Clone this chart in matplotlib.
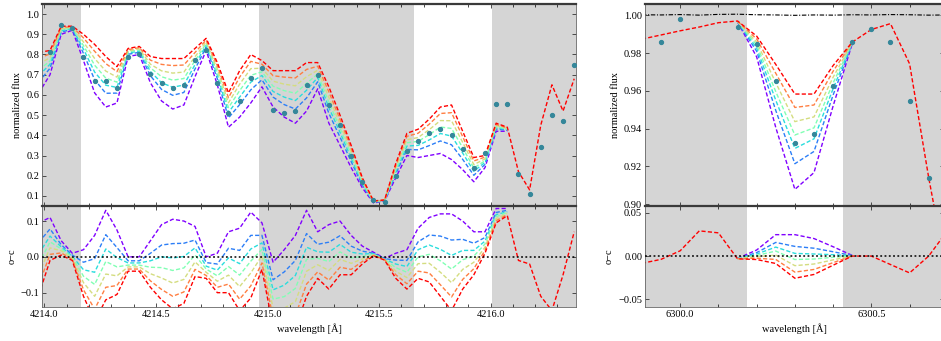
import numpy as np
import matplotlib
matplotlib.use("Agg")
import matplotlib.pyplot as plt

# ---------------- blue window (4214-4216 A) ----------------
wave_a = [4213.975, 4214.025, 4214.075, 4214.125, 4214.175, 4214.225, 4214.275,
          4214.325, 4214.375, 4214.425, 4214.475, 4214.525, 4214.575, 4214.625,
          4214.675, 4214.725, 4214.775, 4214.825, 4214.875, 4214.925, 4214.975,
          4215.025, 4215.075, 4215.125, 4215.175, 4215.225, 4215.275, 4215.325,
          4215.375, 4215.425, 4215.475, 4215.525, 4215.575, 4215.625, 4215.675,
          4215.725, 4215.775, 4215.825, 4215.875, 4215.925, 4215.975, 4216.025,
          4216.075, 4216.125, 4216.175, 4216.225, 4216.275, 4216.325, 4216.375]

obs_a = [0.705, 0.81, 0.945, 0.93, 0.79, 0.67, 0.67, 0.635, 0.79, 0.80,
         0.705, 0.66, 0.635, 0.65, 0.775, 0.82, 0.66, 0.51, 0.57, 0.685,
         0.735, 0.525, 0.51, 0.52, 0.65, 0.70, 0.55, 0.45, 0.30, 0.17,
         0.078, 0.071, 0.20, 0.32, 0.37, 0.41, 0.43, 0.40, 0.33, 0.24,
         0.31, 0.555, 0.555, 0.21, 0.11, 0.34, 0.50, 0.47, 0.75]

# synthetic spectra, strongest line (violet) to weakest (red)
syn_a_violet = [0.61, 0.70, 0.90, 0.92, 0.77, 0.61, 0.54, 0.56, 0.79, 0.80, 0.66,
                0.57, 0.53, 0.55, 0.69, 0.82, 0.65, 0.44, 0.49, 0.56, 0.64, 0.54,
                0.49, 0.46, 0.52, 0.63, 0.46, 0.35, 0.24, 0.14, 0.065, 0.075,
                0.19, 0.30, 0.29, 0.30, 0.31, 0.28, 0.23, 0.17, 0.24, 0.42, 0.42]
syn_a_blue = [0.664, 0.732, 0.911, 0.925, 0.805, 0.675, 0.608, 0.609, 0.801, 0.811,
              0.695, 0.627, 0.598, 0.612, 0.728, 0.836, 0.680, 0.486, 0.552, 0.625,
              0.675, 0.589, 0.552, 0.530, 0.585, 0.665, 0.509, 0.391, 0.270, 0.154,
              0.068, 0.076, 0.209, 0.330, 0.328, 0.349, 0.372, 0.353, 0.281, 0.202,
              0.256, 0.431, 0.425]
syn_a_cyan = [0.696, 0.752, 0.917, 0.929, 0.826, 0.713, 0.648, 0.637, 0.807, 0.817,
              0.716, 0.660, 0.638, 0.649, 0.750, 0.846, 0.697, 0.513, 0.589, 0.663,
              0.696, 0.617, 0.589, 0.572, 0.623, 0.686, 0.537, 0.415, 0.287, 0.162,
              0.069, 0.077, 0.220, 0.347, 0.350, 0.377, 0.409, 0.396, 0.312, 0.222,
              0.266, 0.437, 0.429]
syn_a_green = [0.724, 0.768, 0.923, 0.931, 0.844, 0.747, 0.683, 0.663, 0.813, 0.823,
               0.734, 0.690, 0.673, 0.681, 0.770, 0.854, 0.713, 0.537, 0.621, 0.697,
               0.714, 0.643, 0.621, 0.608, 0.657, 0.704, 0.563, 0.436, 0.303, 0.169,
               0.071, 0.078, 0.230, 0.363, 0.370, 0.403, 0.441, 0.434, 0.338, 0.238,
               0.274, 0.443, 0.431]
syn_a_yellow = [0.752, 0.785, 0.928, 0.934, 0.862, 0.780, 0.718, 0.688, 0.818, 0.828,
                0.752, 0.719, 0.708, 0.713, 0.789, 0.863, 0.728, 0.561, 0.653, 0.730,
                0.732, 0.668, 0.653, 0.645, 0.690, 0.722, 0.588, 0.457, 0.318, 0.176,
                0.072, 0.079, 0.240, 0.378, 0.389, 0.428, 0.473, 0.472, 0.365, 0.255,
                0.283, 0.448, 0.434]
syn_a_orange = [0.782, 0.803, 0.934, 0.937, 0.882, 0.816, 0.755, 0.715, 0.824, 0.834,
                0.772, 0.751, 0.745, 0.748, 0.810, 0.872, 0.745, 0.586, 0.688, 0.766,
                0.752, 0.695, 0.688, 0.684, 0.726, 0.742, 0.615, 0.479, 0.335, 0.183,
                0.074, 0.079, 0.250, 0.395, 0.410, 0.455, 0.508, 0.512, 0.393, 0.273,
                0.292, 0.454, 0.437]
syn_a_red = [0.81, 0.82, 0.94, 0.94, 0.90, 0.85, 0.79, 0.74, 0.83, 0.84, 0.79, 0.78,
             0.78, 0.78, 0.83, 0.88, 0.76, 0.61, 0.72, 0.80, 0.77, 0.72, 0.72, 0.72,
             0.76, 0.76, 0.64, 0.50, 0.35, 0.19, 0.075, 0.08, 0.26, 0.41, 0.43, 0.48,
             0.54, 0.55, 0.42, 0.29, 0.30, 0.46, 0.44, 0.22, 0.13, 0.45, 0.65, 0.52,
             0.68]

# regions excluded from the fit
masks_a = [(4213.90, 4214.165), (4214.96, 4215.655), (4216.005, 4216.50)]

# ---------------- red window (6300 A) ----------------
wave_b = [6299.90, 6299.95, 6300.00, 6300.05, 6300.10, 6300.15, 6300.20, 6300.25,
          6300.30, 6300.35, 6300.40, 6300.45, 6300.50, 6300.55, 6300.60, 6300.65,
          6300.70]
wave_b_core = [6300.15, 6300.20, 6300.25, 6300.30, 6300.35, 6300.40, 6300.45]

obs_b = [0.979, 0.9858, 0.9979, 1.023, 1.023, 0.9938, 0.985, 0.9654, 0.9326,
         0.937, 0.9628, 0.9858, 0.9925, 0.9858, 0.9548, 0.914, 0.89]
telluric_b = [1.0003, 1.0002, 1.0004, 1.0001, 1.0005, 1.0006, 1.0003, 1.0002,
              1.0000, 1.0002, 1.0001, 1.0003, 1.0002, 1.0004, 1.0003, 1.0001, 1.0002]

syn_b_violet = [0.9965, 0.9780, 0.9406, 0.9078, 0.9167, 0.9520, 0.9850]
syn_b_blue = [0.9966, 0.9810, 0.9496, 0.9214, 0.9279, 0.9578, 0.9852]
syn_b_cyan = [0.9967, 0.9827, 0.9550, 0.9295, 0.9346, 0.9612, 0.9853]
syn_b_green = [0.9967, 0.9843, 0.9596, 0.9366, 0.9404, 0.9642, 0.9855]
syn_b_yellow = [0.9968, 0.9858, 0.9643, 0.9437, 0.9462, 0.9672, 0.9856]
syn_b_orange = [0.9969, 0.9875, 0.9693, 0.9512, 0.9525, 0.9704, 0.9857]
syn_b_red = [0.9874, 0.9896, 0.9918, 0.9938, 0.9961, 0.9970, 0.9890, 0.9740,
             0.9583, 0.9583, 0.9734, 0.9858, 0.9925, 0.9956, 0.9743, 0.9140, 0.8600]

masks_b = [(6299.80, 6300.175), (6300.425, 6300.80)]

# ---------------- styling ----------------
plt.rcParams['font.family'] = ['Liberation Serif', 'DejaVu Serif']
plt.rcParams['font.size'] = 7.5
plt.rcParams['axes.unicode_minus'] = True

colors = plt.cm.rainbow(np.linspace(0, 1, 7))
obs_color = '#35879a'
mask_color = '#d5d5d5'
ls_model = (0, (3.0, 1.6))
lw_model = 1.0

fig = plt.figure(figsize=(9.41, 3.41), dpi=100)
W, H = 941.0, 341.0


def box(x0, x1, y0, y1):
    return [x0 / W, 1 - y1 / H, (x1 - x0) / W, (y1 - y0) / H]


ax_a = fig.add_axes(box(42, 576, 4, 206))
ax_ar = fig.add_axes(box(42, 576, 206, 307), sharex=ax_a)
ax_b = fig.add_axes(box(645, 944, 4, 206))
ax_br = fig.add_axes(box(645, 944, 206, 307), sharex=ax_b)


def model_curves(wave, core, obs, models):
    """Return (x, y, residual) for each synthetic spectrum."""
    wave = np.asarray(wave)
    obs = np.asarray(obs)
    out = []
    for m in models:
        m = np.asarray(m)
        if len(m) == len(wave):
            x = wave
            o = obs
        else:
            x = np.asarray(core)
            idx = np.searchsorted(wave, x[0] - 1e-6)
            o = obs[idx: idx + len(m)]
        out.append((x, m, o - m))
    return out


def style(ax):
    ax.set_facecolor('white')
    ax.tick_params(direction='in', top=True, right=True, length=3, width=0.6,
                   color='#333333', pad=2, labelsize=7.5)
    for s in ax.spines.values():
        s.set_color('#666666')
        s.set_linewidth(0.6)
    ax.spines['top'].set_color('#3a3a3a')
    ax.spines['top'].set_linewidth(1.6)


# left window
wa = np.asarray(wave_a)
core_a = wa[:len(syn_a_violet)]
models_a = [syn_a_violet, syn_a_blue, syn_a_cyan, syn_a_green,
            syn_a_yellow, syn_a_orange, syn_a_red]
curves_a = model_curves(wave_a, core_a, obs_a, models_a)

for ax in (ax_a, ax_ar):
    for lo, hi in masks_a:
        ax.axvspan(lo, hi, color=mask_color, lw=0, zorder=0)
    style(ax)

for (x, m, r), c in zip(curves_a, colors):
    ax_a.plot(x, m, ls=ls_model, color=c, lw=lw_model, zorder=2)
    ax_ar.plot(x, r, ls=ls_model, color=c, lw=lw_model, zorder=2)
ax_a.plot(wave_a, obs_a, 'o', ms=2.8, color=obs_color, mec=obs_color, zorder=3)
ax_ar.axhline(0.0, color='k', ls=(0, (1.2, 1.6)), lw=1.1, zorder=3)

ax_a.set_ylim(0.05, 1.05)
ax_a.set_yticks(np.arange(0.1, 1.01, 0.1))
ax_a.set_yticklabels([f'{v:.1f}' for v in np.arange(0.1, 1.01, 0.1)])
ax_a.set_xlim(4213.989, 4216.383)
ax_a.set_xticks([4214.0, 4214.5, 4215.0, 4215.5, 4216.0])
ax_a.xaxis.set_minor_locator(matplotlib.ticker.MultipleLocator(0.1))
ax_a.tick_params(which='minor', direction='in', top=True, length=2, width=0.5)
plt.setp(ax_a.get_xticklabels(), visible=False)
ax_a.set_ylabel('normalized flux', labelpad=3)

ax_ar.set_ylim(-0.14, 0.142)
ax_ar.set_yticks([-0.1, 0.0, 0.1])
ax_ar.set_yticklabels(['\u22120.1', '0.0', '0.1'])
ax_ar.tick_params(which='minor', direction='in', top=True, length=2, width=0.5)
ax_ar.set_xticklabels(['4214.0', '4214.5', '4215.0', '4215.5', '4216.0'])
ax_ar.set_xlabel('wavelength [\u00c5]', labelpad=3)
ax_ar.set_ylabel('o\u2212c', labelpad=3)

# right window
models_b = [syn_b_violet, syn_b_blue, syn_b_cyan, syn_b_green,
            syn_b_yellow, syn_b_orange, syn_b_red]
curves_b = model_curves(wave_b, wave_b_core, obs_b, models_b)

for ax in (ax_b, ax_br):
    for lo, hi in masks_b:
        ax.axvspan(lo, hi, color=mask_color, lw=0, zorder=0)
    style(ax)

ax_b.plot(wave_b, telluric_b, color='k', ls=(0, (4, 1.5, 1, 1.5)), lw=0.8, zorder=2)
for (x, m, r), c in zip(curves_b, colors):
    ax_b.plot(x, m, ls=ls_model, color=c, lw=lw_model, zorder=2)
    ax_br.plot(x, r, ls=ls_model, color=c, lw=lw_model, zorder=2)
ax_b.plot(wave_b, obs_b, 'o', ms=2.8, color=obs_color, mec=obs_color, zorder=3)
ax_br.axhline(0.0, color='k', ls=(0, (1.2, 1.6)), lw=1.1, zorder=3)

ax_b.set_ylim(0.899, 1.006)
ax_b.set_yticks([0.90, 0.92, 0.94, 0.96, 0.98, 1.00])
ax_b.set_yticklabels(['0.90', '0.92', '0.94', '0.96', '0.98', '1.00'])
ax_b.set_xlim(6299.908, 6300.690)
ax_b.set_xticks([6300.0, 6300.5])
ax_b.xaxis.set_minor_locator(matplotlib.ticker.MultipleLocator(0.1))
ax_b.tick_params(which='minor', direction='in', top=True, length=2, width=0.5)
plt.setp(ax_b.get_xticklabels(), visible=False)
ax_b.set_ylabel('normalized flux', labelpad=3)

ax_br.set_ylim(-0.059, 0.058)
ax_br.set_yticks([-0.05, 0.0, 0.05])
ax_br.set_yticklabels(['\u22120.05', '0.00', '0.05'])
ax_br.tick_params(which='minor', direction='in', top=True, length=2, width=0.5)
ax_br.set_xticklabels(['6300.0', '6300.5'])
ax_br.set_xlabel('wavelength [\u00c5]', labelpad=3)
ax_br.set_ylabel('o\u2212c', labelpad=3)

fig.savefig('out.png', dpi=100)
